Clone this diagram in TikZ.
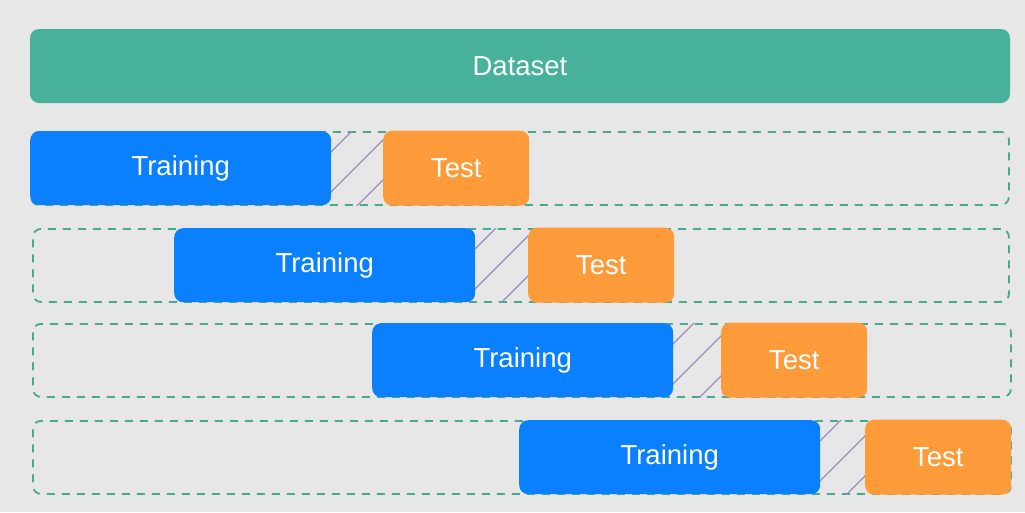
\documentclass[tikz,border=0pt]{standalone}
\usepackage{fontspec}
\setmainfont{Liberation Sans}
\definecolor{bgc}{HTML}{E7E7E7}
\definecolor{dsc}{HTML}{47B19B}
\definecolor{trc}{HTML}{0A80FE}
\definecolor{tsc}{HTML}{FD9B3A}
\definecolor{dshc}{HTML}{4AA88C}
\definecolor{hatc}{HTML}{9A8CBE}
\tikzset{
  box/.style={rounded corners=9pt, inner sep=0pt, text=white, font=\fontsize{27.5}{30}\selectfont},
  dsbox/.style={box, fill=dsc, minimum width=980pt, minimum height=74pt},
  trbox/.style={box, fill=trc, minimum width=301pt, minimum height=74pt},
  tsbox/.style={box, fill=tsc, minimum width=146pt, minimum height=75pt},
  rowbox/.style={draw=dshc, line width=1.8pt, dash pattern=on 8pt off 7pt, rounded corners=8pt, inner sep=0pt, minimum height=73pt},
  hatch/.style={draw=hatc, line width=1.3pt}
}
\begin{document}
\begin{tikzpicture}[x=1pt,y=-1pt]
\fill[bgc] (0,0) rectangle (1025,512);
\useasboundingbox (0,0) rectangle (1025,512);
\node[dsbox] (ds) at (520,66) {Dataset};
% rows: left of dashed, right of dashed, top, train left, test left
\foreach \r/\dl/\dr/\top/\tl/\sl in {1/30/1008/131/30/383, 2/32/1008/228/174/528, 3/32/1010/323/372/721, 4/32/1010/420/519/865}{
  \node[rowbox, minimum width={\dr-\dl}, anchor=north west] (row\r) at (\dl,\top) {};
  \begin{scope}
    \clip (\tl+301,\top) rectangle (\sl,\top+74);
    \foreach \k in {21,61,101,141}{
      \draw[hatch] (\tl+301+\k+5,\top-5) -- (\tl+301+\k-100,\top+100);
    }
  \end{scope}
  \node[trbox, anchor=north west] (tr\r) at (\tl,\top) {Training};
  \node[tsbox, anchor=north west] (ts\r) at (\sl,\top-0.5) {Test};
}
\end{tikzpicture}
\end{document}
